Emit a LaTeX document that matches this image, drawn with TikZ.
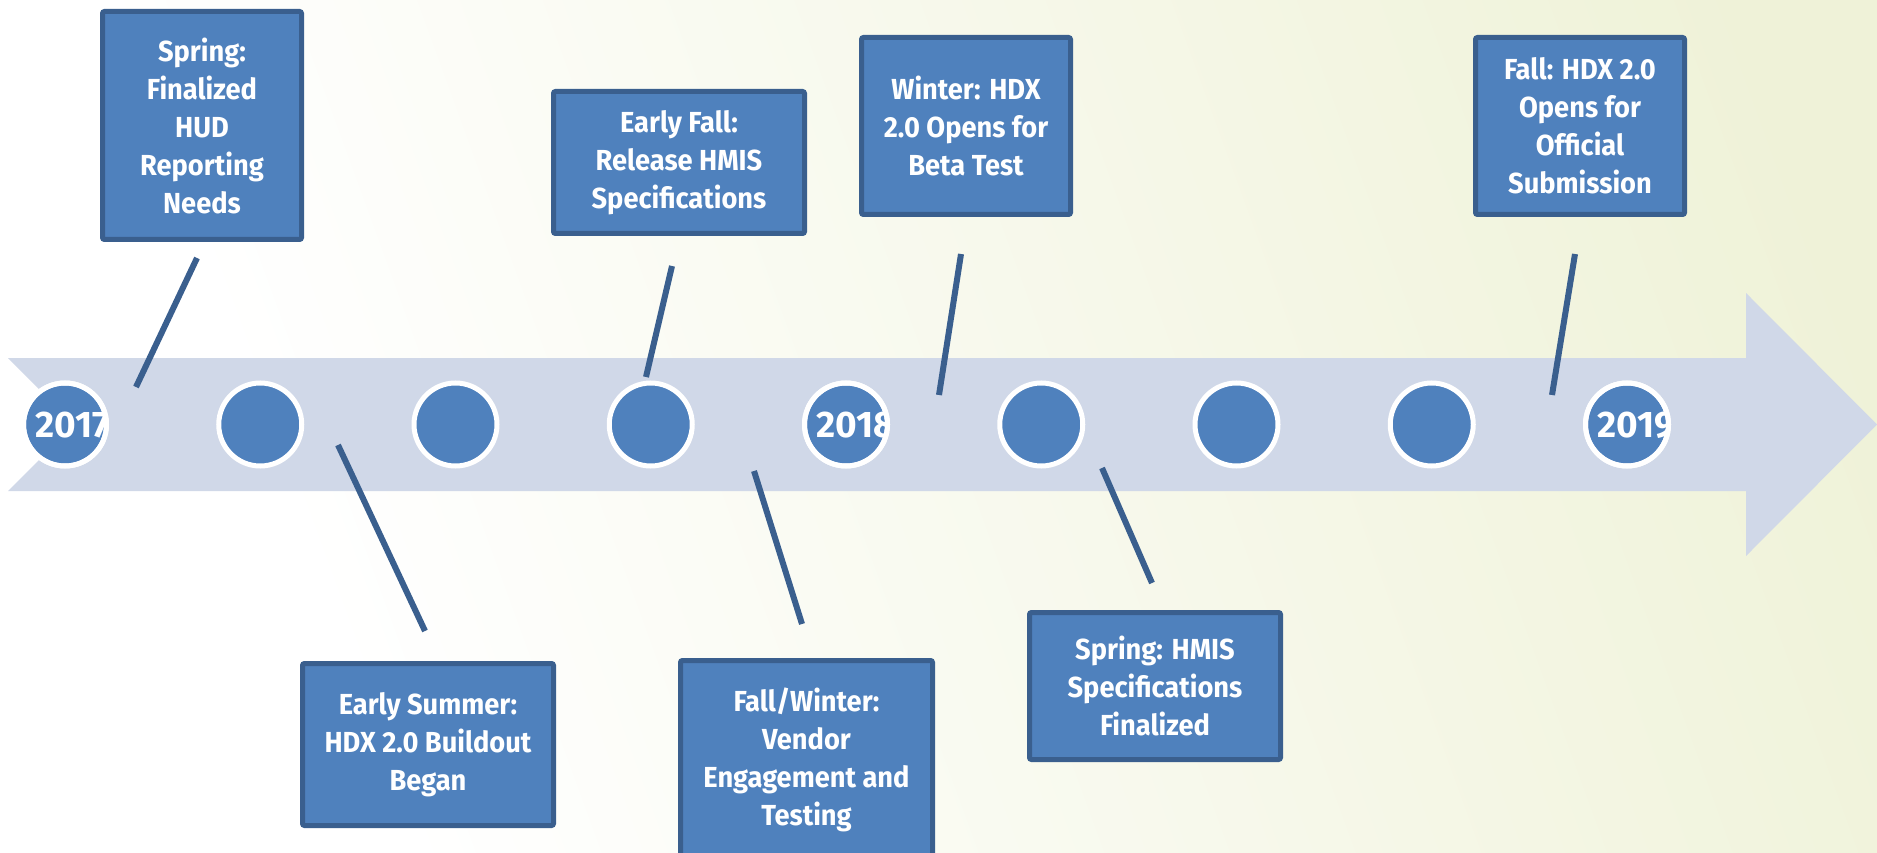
\documentclass[tikz,border=0pt]{standalone}
\usepackage{fontspec}
\newfontfamily\tlfont{Fira Sans}[FakeStretch=0.94]
\newfontfamily\yrfont{Fira Sans}[FakeStretch=1.0]
\usetikzlibrary{calc}
\definecolor{boxfill}{HTML}{4F81BD}
\definecolor{boxline}{HTML}{3A5F8E}
\definecolor{bandcol}{RGB}{208,216,232}
\definecolor{bgyellow}{RGB}{239,242,216}
\pgfdeclarehorizontalshading{bgshade}{100bp}{color(0bp)=(white); color(30bp)=(white); color(78bp)=(bgyellow); color(100bp)=(bgyellow)}
\tikzset{
  evbox/.style={draw=boxline, line width=5pt, fill=boxfill, rounded corners=2pt,
    text=white, align=center, inner sep=0pt,
    font=\tlfont\bfseries\fontsize{29}{38}\selectfont},
  dot/.style={circle, draw=white, line width=5pt, fill=boxfill, minimum size=83pt, inner sep=0pt},
  yeartext/.style={text=white, inner sep=0pt, font=\yrfont\bfseries\fontsize{37}{40}\selectfont},
  conn/.style={draw=boxline, line width=6pt}
}
\begin{document}
\begin{tikzpicture}[x=1pt,y=-1pt]
\useasboundingbox (0,0) rectangle (1877,853);
\clip (0,0) rectangle (1877,853);
\shade[shading=bgshade, shading angle=20] (0,0) rectangle (1877,853);
% arrow band
\fill[bandcol] (8,358) -- (1746,358) -- (1746,293) -- (1877,424.5) -- (1746,556) -- (1746,491) -- (8,491) -- (74.5,424.5) -- cycle;
% circles
\foreach \i in {0,...,8}{
  \node[dot] (c\i) at (65+195.25*\i,424.5) {};
}
\foreach \i/\yr in {0/2017,4/2018,8/2019}{
  \begin{scope}
    \clip (c\i.center) circle [radius=39];
    \node[yeartext, anchor=base west] at ($(c\i.center)+(-30,12.5)$) {\yr};
  \end{scope}
  \draw[white, line width=5pt] (c\i.center) circle [radius=41.5];
}
% boxes
\node[evbox, minimum width=199pt, minimum height=228pt] (b1) at (202,125.5) {Spring:\\Finalized\\HUD\\Reporting\\Needs};
\node[evbox, minimum width=251pt, minimum height=162pt] (b2) at (428,744.5) {Early Summer:\\HDX 2.0 Buildout\\Began};
\node[evbox, minimum width=251pt, minimum height=142pt] (b3) at (679,162.5) {Early Fall:\\Release HMIS\\Specifications};
\node[evbox, minimum width=252pt, minimum height=199pt] (b4) at (806.5,760) {Fall/Winter:\\Vendor\\Engagement and\\Testing};
\node[evbox, minimum width=209pt, minimum height=177pt] (b5) at (966,126) {Winter: HDX\\2.0 Opens for\\Beta Test};
\node[evbox, minimum width=251pt, minimum height=147pt] (b6) at (1155,686) {Spring: HMIS\\Specifications\\Finalized};
\node[evbox, minimum width=209pt, minimum height=177pt] (b7) at (1580,126) {Fall: HDX 2.0\\Opens for\\Official\\Submission};
% connectors
\coordinate (l1a) at (197,258); \coordinate (l1b) at (136,387);
\coordinate (l2a) at (338,445); \coordinate (l2b) at (425,631);
\coordinate (l3a) at (672,266); \coordinate (l3b) at (646,377);
\coordinate (l4a) at (754,471); \coordinate (l4b) at (802,624);
\coordinate (l5a) at (961,254); \coordinate (l5b) at (939,395);
\coordinate (l6a) at (1102,468); \coordinate (l6b) at (1152,583);
\coordinate (l7a) at (1575,254); \coordinate (l7b) at (1552,395);
\foreach \k in {1,...,7}{ \draw[conn] (l\k a) -- (l\k b); }
\end{tikzpicture}
\end{document}
